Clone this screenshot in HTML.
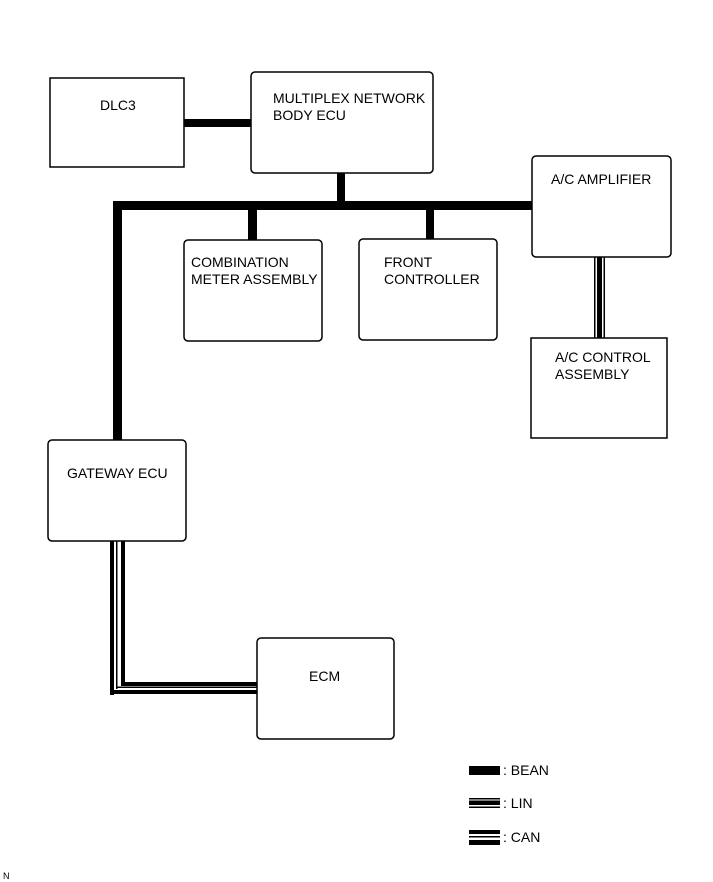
<!DOCTYPE html>
<html><head><meta charset="utf-8"><style>
html,body{margin:0;padding:0;background:#fff;}
svg{display:block;}
text{font-family:"Liberation Sans",Arial,sans-serif;font-size:14px;fill:#000;}
</style></head><body>
<svg width="713" height="882" viewBox="0 0 713 882" xmlns="http://www.w3.org/2000/svg">
<g fill="#000">
<!-- BEAN lines -->
<rect x="184" y="119" width="67" height="8"/>
<rect x="337" y="173" width="8" height="30"/>
<rect x="113" y="201" width="420" height="9"/>
<rect x="113" y="201" width="9" height="240"/>
<rect x="248" y="205" width="9" height="36"/>
<rect x="426" y="205" width="8" height="35"/>
<!-- LIN A/C -->
<rect x="594" y="257" width="1.5" height="82"/>
<rect x="597" y="257" width="5" height="82"/>
<rect x="603.5" y="257" width="1.5" height="82"/>
<!-- CAN gateway-ECM -->
<rect x="110" y="541" width="4" height="154"/>
<rect x="110" y="690" width="148" height="4"/>
<rect x="116" y="541" width="1.5" height="148"/>
<rect x="116" y="686.5" width="142" height="1.5"/>
<rect x="121" y="541" width="4" height="145"/>
<rect x="121" y="682" width="137" height="4"/>
<!-- legend -->
<rect x="469" y="766" width="31" height="9"/>
<rect x="469" y="798" width="31" height="1.5"/>
<rect x="469" y="800.5" width="31" height="4.5"/>
<rect x="469" y="806.5" width="31" height="1.5"/>
<rect x="469" y="830" width="31" height="4"/>
<rect x="469" y="836" width="31" height="1.5"/>
<rect x="469" y="840" width="31" height="5"/>
</g>
<g fill="#fff" stroke="#000" stroke-width="1.5">
<rect x="50" y="78" width="134" height="89"/>
<rect x="251" y="72" width="182" height="101" rx="4"/>
<rect x="532" y="156" width="139" height="101" rx="4"/>
<rect x="184" y="240" width="138" height="101" rx="4"/>
<rect x="359" y="239" width="138" height="101" rx="4"/>
<rect x="531" y="338" width="136" height="100"/>
<rect x="48" y="440" width="138" height="101" rx="4"/>
<rect x="257" y="638" width="137" height="101" rx="4"/>
</g>
<text x="100" y="110">DLC3</text>
<text x="273" y="103">MULTIPLEX NETWORK</text>
<text x="273" y="120">BODY ECU</text>
<text x="551" y="184">A/C AMPLIFIER</text>
<text x="191" y="267">COMBINATION</text>
<text x="191" y="284">METER ASSEMBLY</text>
<text x="384" y="267">FRONT</text>
<text x="384" y="284">CONTROLLER</text>
<text x="555" y="362">A/C CONTROL</text>
<text x="555" y="379">ASSEMBLY</text>
<text x="67" y="478">GATEWAY ECU</text>
<text x="309" y="681">ECM</text>
<text x="503" y="775">: BEAN</text>
<text x="503" y="808">: LIN</text>
<text x="503" y="842">: CAN</text>
<text x="3" y="879" style="font-size:9px">N</text>
</svg>
</body></html>
